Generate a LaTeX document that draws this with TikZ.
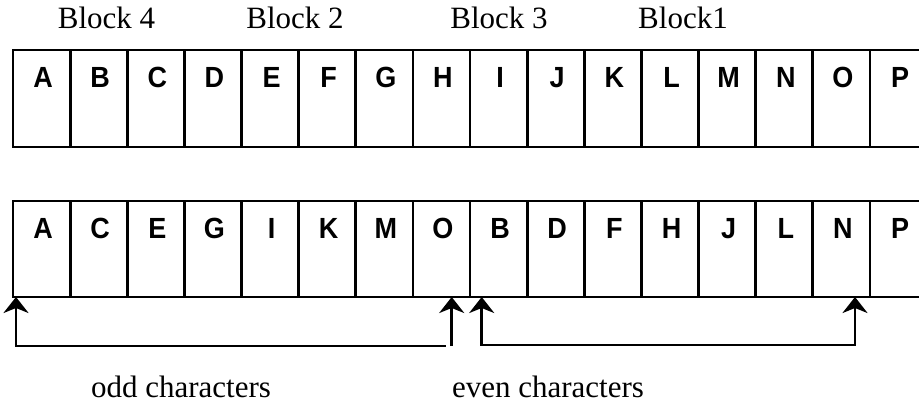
\documentclass[tikz,border=0pt]{standalone}
\usepackage{fontspec}
\setmainfont{Liberation Serif}
\newfontfamily\lettrfont{Liberation Sans}
\usetikzlibrary{arrows.meta}
\tikzset{
  cell/.style={draw, line width=2.8pt, minimum width=57.13pt, inner sep=0pt},
  toprow/.style={cell, minimum height=97pt},
  botrow/.style={cell, minimum height=96pt},
  lettr/.style={font=\lettrfont\bfseries\fontsize{27}{27}\selectfont, inner sep=0pt, anchor=base},
  lbl/.style={font=\fontsize{31}{31}\selectfont, inner sep=0pt, anchor=base},
  conn/.style={line width=2.8pt},
  arr/.style={conn, -{Stealth[length=16pt, width=25pt, inset=5pt]}}
}
\newcommand{\tallish}[1]{\scalebox{1}[1.08]{#1}}
\begin{document}
\begin{tikzpicture}[x=1pt,y=-1pt]
\useasboundingbox (0,0) rectangle (919,407);
\clip (0,0) rectangle (919,407);
% top row
\foreach \L [count=\i] in {A,B,C,D,E,F,G,H,I,J,K,L,M,N,O,P} {
  \node[toprow] (t\i) at ({13+57.13*(\i-0.5)},98.5) {};
  \path (t\i.north) ++(1.5,38.5) node[lettr] (tl\i) {\tallish{\L}};
}
% bottom row
\foreach \L [count=\i] in {A,C,E,G,I,K,M,O,B,D,F,H,J,L,N,P} {
  \node[botrow] (b\i) at ({13+57.13*(\i-0.5)},249) {};
  \path (b\i.north) ++(1.5,38.5) node[lettr] (bl\i) {\tallish{\L}};
}
% block labels
\node[lbl] (blk4) at (106.5,28) {Block 4};
\node[lbl] (blk2) at (295,28) {Block 2};
\node[lbl] (blk3) at (499,28) {Block 3};
\node[lbl] (blk1) at (683,28) {Block1};
% bottom labels
\node[lbl] (odd) at (181,397) {odd characters};
\node[lbl] (even) at (548,397) {even characters};
% arrows
\coordinate (a1) at (16,297);
\coordinate (a1b) at (16,346);
\coordinate (a1e) at (445.7,346);
\coordinate (a2) at (451.7,297);
\coordinate (a2b) at (451.7,346);
\coordinate (a3) at (481.7,297);
\coordinate (a3b) at (481.7,345);
\coordinate (a4b) at (855,345);
\coordinate (a4) at (855,297);
\draw[arr] (a1e) -- (a1b) -- (a1);
\draw[arr] (a2b) -- (a2);
\draw[arr] (a4b) -- (a3b) -- (a3);
\draw[arr] (a3b) -- (a4b) -- (a4);
\end{tikzpicture}
\end{document}
